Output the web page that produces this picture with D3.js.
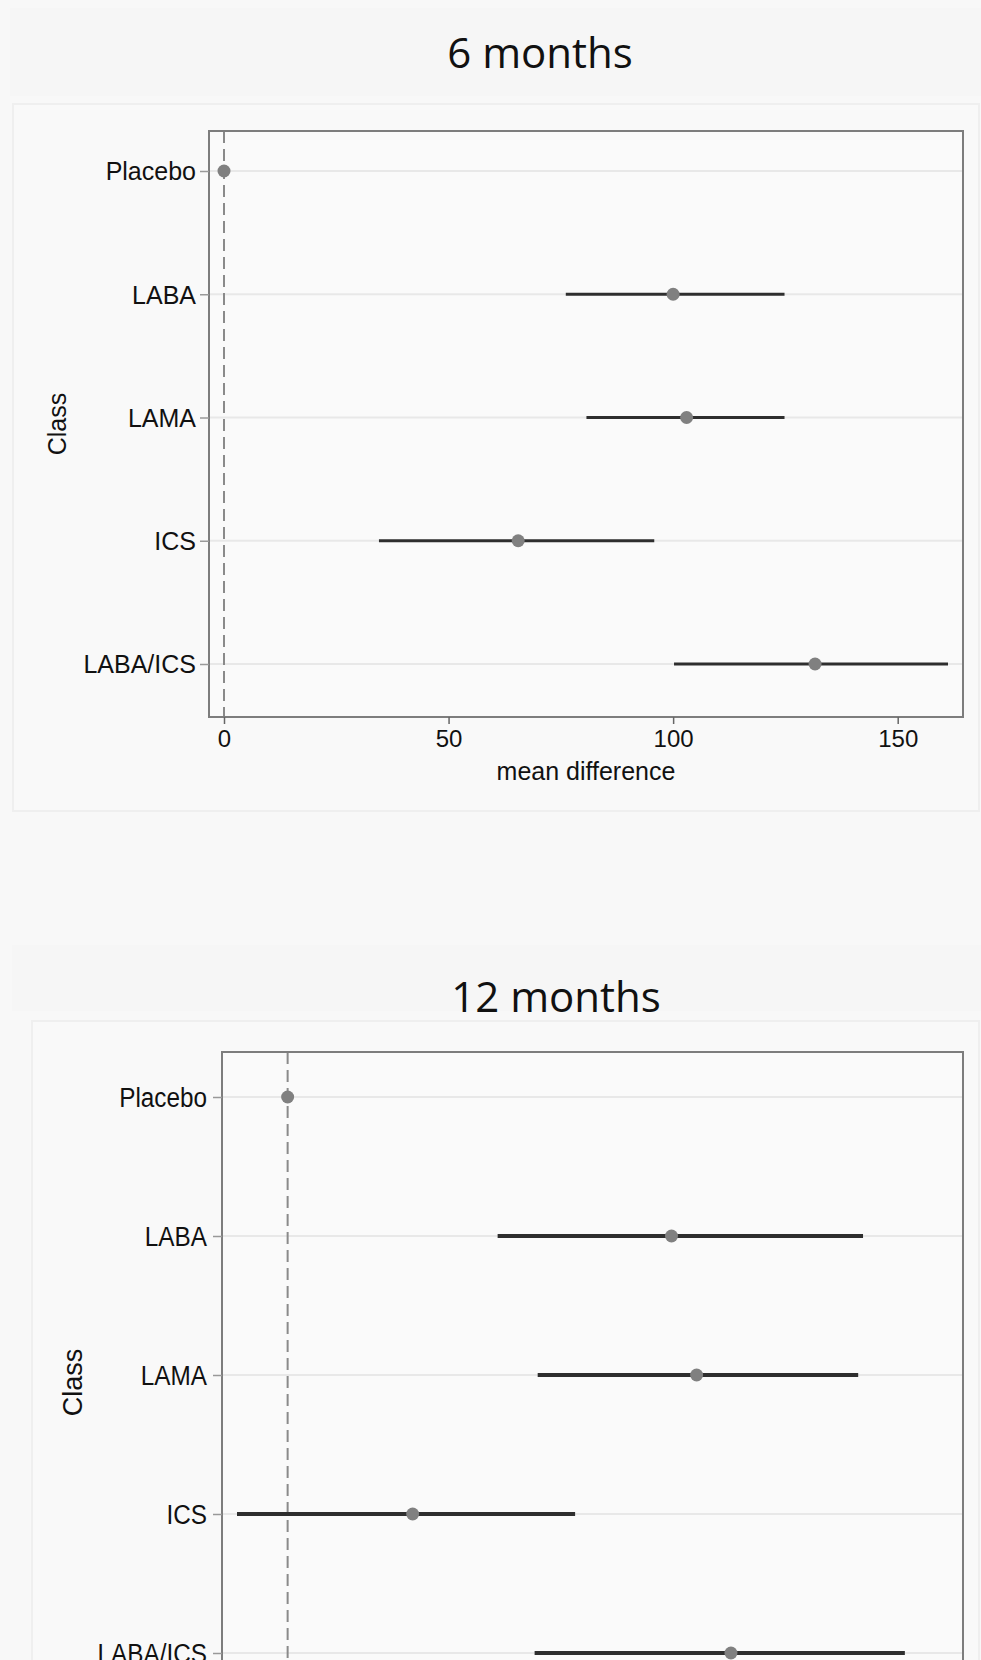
<!DOCTYPE html>
<html>
<head>
<meta charset="utf-8">
<script src="https://cdn.jsdelivr.net/npm/d3@7"></script>
<style>
body { margin: 0; background: #f8f8f8; }
svg { display: block; }
</style>
</head>
<body>
<div class="mydiv"></div>
<script>
var width = 981;
var height = 1660;

// values
var classes = ["Placebo", "LABA", "LAMA", "ICS", "LABA/ICS"];
var xTicks = [0, 50, 100, 150];

var est6 = [0, 100.0, 103.0, 65.5, 131.6];
var lo6  = [0, 76.1, 80.7, 34.5, 100.2];
var hi6  = [0, 124.8, 124.8, 95.8, 161.2];

var est12 = [0, 87.2, 92.9, 28.4, 100.7];
var lo12  = [0, 47.7, 56.8, -11.5, 56.1];
var hi12  = [0, 130.7, 129.6, 65.3, 140.2];

// layout of the two stacked graphs
var panels = [
	{ title: "6 months", est: est6, lo: lo6, hi: hi6,
	  band: [10, 8, 971, 88], region: [13, 104, 966, 707],
	  titleX: 540, titleY: 68,
	  left: 209, right: 963, top: 131, bottom: 717, rowTop: 171, rowBottom: 664,
	  font: 25, sx: 1, pad: 4, classX: 66, lineW: 3 },
	{ title: "12 months", est: est12, lo: lo12, hi: hi12,
	  band: [12, 945, 969, 66], region: [32, 1021, 947, 700],
	  titleX: 556, titleY: 1012,
	  left: 222, right: 963, top: 1052, bottom: 1713, rowTop: 1097, rowBottom: 1653,
	  font: 27, sx: 0.9, pad: 6, classX: 82, lineW: 4 }
];

var svg = d3.select(".mydiv")
	.append("svg")
	.attr("width", width)
	.attr("height", height);

svg.append("rect")
	.attr("width", width)
	.attr("height", height)
	.attr("fill", "#f8f8f8");

// squeeze text a little, the original glyphs are narrower than Arial
function squeeze(sel, sx) {
	if (sx === 1) return;
	sel.each(function() {
		var w = this.getComputedTextLength();
		d3.select(this).attr("textLength", w * sx).attr("lengthAdjust", "spacingAndGlyphs");
	});
}

panels.forEach(function(p) {
	var data = classes.map(function(c, i) {
		return { name: c, est: p.est[i], lo: p.lo[i], hi: p.hi[i] };
	});

	// title band and graph region
	svg.append("rect")
		.attr("x", p.band[0]).attr("y", p.band[1])
		.attr("width", p.band[2]).attr("height", p.band[3])
		.attr("fill", "#f6f6f6");
	svg.append("rect")
		.attr("x", p.region[0]).attr("y", p.region[1])
		.attr("width", p.region[2]).attr("height", p.region[3])
		.attr("fill", "#f9f9f9")
		.attr("stroke", "#efefef")
		.attr("stroke-width", 2);

	svg.append("text")
		.attr("x", p.titleX)
		.attr("y", p.titleY)
		.attr("text-anchor", "middle")
		.style("font-family", "'Open Sans', sans-serif")
		.style("font-size", "42px")
		.style("fill", "#111")
		.text(p.title);

	// x range from data and ticks, with a margin inside the frame
	var xmin = Math.min(d3.min(p.lo), d3.min(xTicks));
	var xmax = Math.max(d3.max(p.hi), d3.max(xTicks));
	var x = d3.scaleLinear()
		.domain([xmin, xmax])
		.range([p.left + 15, p.right - 15]);

	var y = d3.scalePoint()
		.domain(classes)
		.range([p.rowTop, p.rowBottom]);

	svg.append("rect")
		.attr("x", p.left).attr("y", p.top)
		.attr("width", p.right - p.left).attr("height", p.bottom - p.top)
		.attr("fill", "#fafafa");

	// grid lines
	svg.append("g").selectAll("line")
		.data(classes)
		.enter()
		.append("line")
		.attr("x1", p.left).attr("x2", p.right)
		.attr("y1", function(d) { return y(d); })
		.attr("y2", function(d) { return y(d); })
		.attr("stroke", "#e8e8e8")
		.attr("stroke-width", 2);

	// reference line at zero
	svg.append("line")
		.attr("x1", x(0)).attr("x2", x(0))
		.attr("y1", p.top).attr("y2", p.bottom)
		.attr("stroke", "#8a8a8a")
		.attr("stroke-width", 2)
		.attr("stroke-dasharray", "12,6");

	// frame
	svg.append("rect")
		.attr("x", p.left).attr("y", p.top)
		.attr("width", p.right - p.left).attr("height", p.bottom - p.top)
		.attr("fill", "none")
		.attr("stroke", "#7d7d7d")
		.attr("stroke-width", 2);

	// y axis
	var yAxis = svg.append("g")
		.attr("transform", "translate(" + p.left + ",0)")
		.call(d3.axisLeft(y).tickSize(9).tickPadding(p.pad));
	yAxis.select(".domain").remove();
	yAxis.selectAll(".tick line").attr("stroke", "#999").attr("stroke-width", 1.5);
	yAxis.selectAll(".tick text")
		.attr("dy", "0.35em")
		.style("font-family", "'Liberation Sans', Arial, sans-serif")
		.style("font-size", p.font + "px")
		.style("fill", "#111")
		.call(squeeze, p.sx);

	// x axis only where it is inside the picture (the 12 months graph is cut off)
	if (p.bottom < height) {
		var xAxis = svg.append("g")
			.attr("transform", "translate(0," + p.bottom + ")")
			.call(d3.axisBottom(x).tickValues(xTicks).tickFormat(d3.format("d")).tickSize(7).tickPadding(6));
		xAxis.select(".domain").remove();
		xAxis.selectAll(".tick line").attr("stroke", "#666").attr("stroke-width", 1.5);
		xAxis.selectAll(".tick text")
			.style("font-family", "'Liberation Sans', Arial, sans-serif")
			.style("font-size", (p.font - 1) + "px")
			.style("fill", "#111")
			.call(squeeze, p.sx);

		svg.append("text")
			.attr("x", (p.left + p.right) / 2)
			.attr("y", p.bottom + 63)
			.attr("text-anchor", "middle")
			.style("font-family", "'Liberation Sans', Arial, sans-serif")
			.style("font-size", p.font + "px")
			.style("fill", "#111")
			.text("mean difference")
			.call(squeeze, p.sx);
	}

	svg.append("text")
		.attr("transform", "translate(" + p.classX + "," + ((p.top + p.bottom) / 2) + ") rotate(-90)")
		.attr("text-anchor", "middle")
		.style("font-family", "'Liberation Sans', Arial, sans-serif")
		.style("font-size", p.font + "px")
		.style("fill", "#111")
		.text("Class");

	// confidence intervals
	svg.append("g").selectAll("line")
		.data(data)
		.enter()
		.append("line")
		.attr("x1", function(d) { return x(d.lo); })
		.attr("x2", function(d) { return x(d.hi); })
		.attr("y1", function(d) { return y(d.name); })
		.attr("y2", function(d) { return y(d.name); })
		.attr("stroke", "#2e2e2e")
		.attr("stroke-width", p.lineW);

	// point estimates
	svg.append("g").selectAll("circle")
		.data(data)
		.enter()
		.append("circle")
		.attr("cx", function(d) { return x(d.est); })
		.attr("cy", function(d) { return y(d.name); })
		.attr("r", 6.5)
		.attr("fill", "#808080");
});
</script>
</body>
</html>
